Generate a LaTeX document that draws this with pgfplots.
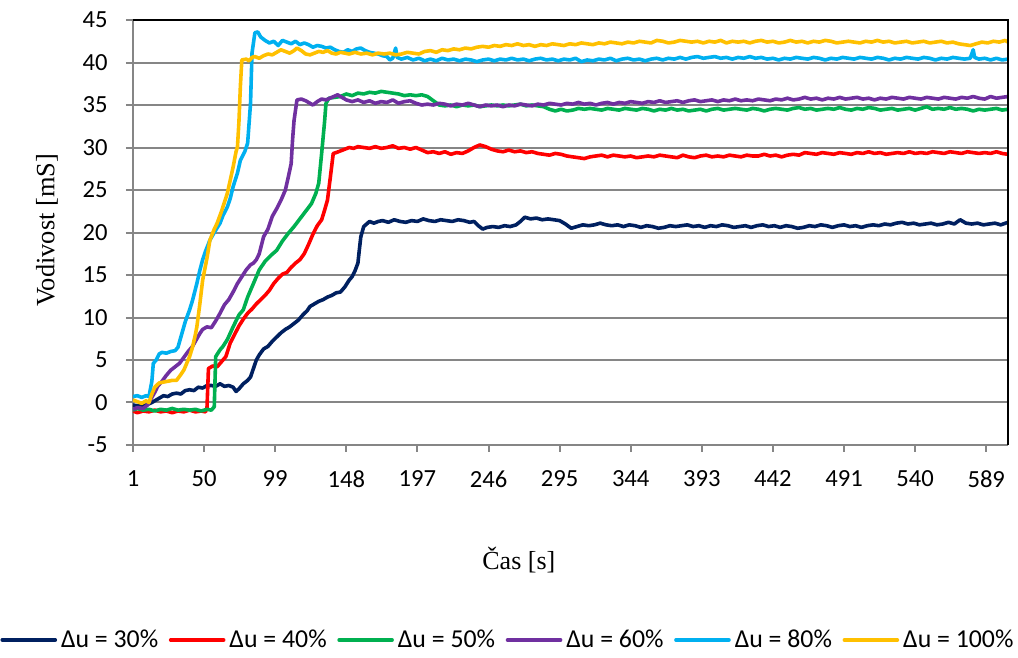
\documentclass[border=0pt]{standalone}
\usepackage{pgfplots}
\usepackage{pgfplotstable}
\pgfplotsset{compat=1.18}
\usepackage{fontspec}
\setmainfont{Carlito}
\newfontfamily\tnr{Liberation Serif}
\definecolor{cnavy}{HTML}{002060}
\definecolor{cred}{HTML}{FF0000}
\definecolor{cgreen}{HTML}{00B050}
\definecolor{cpurple}{HTML}{7030A0}
\definecolor{ccyan}{HTML}{00B0F0}
\definecolor{cyellow}{HTML}{FFC000}
\definecolor{gridgray}{HTML}{868686}

\pgfplotstableread[row sep=\\]{x y\\
1 -0.3\\ 5 -0.4\\ 10 -0.3\\ 14 0.0\\ 17 0.3\\ 20 0.6\\ 22 0.8\\ 25 0.7\\ 28 1.0\\ 31 1.1\\ 34 1.0\\ 37 1.4\\ 40 1.5\\ 43 1.4\\ 46 1.8\\ 49 1.7\\ 52 2.0\\ 55 2.0\\ 58 1.9\\ 61 2.2\\ 64 1.9\\ 67 2.0\\ 70 1.8\\ 72 1.3\\ 74 1.6\\ 77 2.2\\ 80 2.6\\ 82 3.0\\ 84 4.0\\ 86 5.0\\ 88 5.6\\ 91 6.3\\ 94 6.6\\ 97 7.2\\ 100 7.7\\ 103 8.2\\ 106 8.6\\ 109 8.9\\ 112 9.3\\ 115 9.7\\ 118 10.3\\ 121 10.8\\ 123 11.3\\ 126 11.6\\ 129 11.9\\ 132 12.1\\ 135 12.4\\ 138 12.6\\ 141 12.9\\ 144 13.0\\ 147 13.6\\ 150 14.4\\ 152 14.8\\ 154 15.5\\ 156 16.4\\ 157 18.0\\ 158 19.5\\ 160 20.7\\ 162 21.0\\ 164 21.3\\ 167 21.1\\ 170 21.3\\
173 21.4\\ 177 21.2\\ 181 21.5\\ 185 21.3\\ 189 21.2\\ 193 21.4\\ 197 21.3\\ 201 21.6\\ 205 21.4\\ 209 21.3\\ 213 21.5\\ 217 21.4\\ 221 21.3\\ 225 21.5\\ 229 21.4\\ 233 21.2\\ 236 21.3\\ 239 20.8\\ 242 20.4\\ 245 20.6\\ 249 20.7\\ 253 20.6\\ 257 20.8\\ 261 20.7\\ 265 20.9\\ 268 21.3\\ 271 21.8\\ 275 21.6\\ 279 21.7\\ 283 21.5\\ 287 21.6\\ 291 21.5\\ 295 21.4\\ 299 21.0\\ 303 20.5\\ 307 20.7\\ 311 20.9\\ 315 20.8\\ 319 20.9\\ 323 21.1\\ 327 20.9\\ 331 20.8\\ 335 20.9\\ 339 20.7\\ 343 20.9\\ 347 20.8\\ 351 20.6\\ 355 20.8\\ 359 20.7\\ 363 20.5\\ 367 20.6\\ 371 20.8\\ 375 20.7\\ 379 20.8\\ 383 20.9\\ 387 20.7\\ 391 20.8\\ 395 20.6\\ 399 20.8\\ 403 20.7\\ 407 20.9\\ 411 20.8\\ 415 20.6\\ 419 20.7\\ 423 20.8\\ 427 20.6\\ 431 20.8\\ 435 20.9\\ 439 20.7\\ 443 20.8\\ 447 20.6\\ 451 20.8\\ 455 20.7\\ 459 20.5\\ 463 20.6\\ 467 20.8\\ 471 20.7\\ 475 20.9\\ 479 20.8\\ 483 20.6\\ 487 20.8\\ 491 20.9\\ 495 20.7\\ 499 20.8\\ 503 20.6\\ 507 20.8\\ 511 20.9\\ 515 20.8\\ 519 21.0\\ 523 20.9\\ 527 21.1\\ 531 21.2\\ 535 21.0\\ 539 21.1\\ 543 20.9\\ 547 21.0\\ 551 21.1\\ 555 20.9\\ 559 21.0\\ 563 21.2\\ 567 21.0\\ 571 21.5\\ 575 21.1\\ 579 21.0\\ 583 21.1\\ 587 20.9\\ 591 21.0\\ 595 21.1\\ 599 20.9\\ 604 21.2\\
}\navy

\pgfplotstableread[row sep=\\]{x y\\
1 -1.0\\ 4 -1.2\\ 8 -1.0\\ 12 -1.1\\ 16 -0.9\\ 20 -1.1\\ 24 -1.0\\ 28 -1.2\\ 32 -1.0\\ 36 -1.1\\ 40 -0.9\\ 44 -1.1\\ 48 -1.0\\ 51 -1.1\\ 52 -0.6\\ 53 4.0\\ 56 4.3\\ 59 4.2\\ 62 4.8\\ 65 5.4\\ 68 7.0\\ 71 8.0\\ 74 9.0\\ 77 9.8\\ 80 10.5\\ 83 11.0\\ 86 11.6\\ 89 12.1\\ 92 12.6\\ 95 13.2\\ 98 14.0\\ 101 14.6\\ 104 15.1\\ 107 15.3\\ 110 15.9\\ 113 16.4\\ 116 16.8\\ 119 17.5\\ 122 18.6\\ 125 19.8\\ 128 20.8\\ 131 21.5\\ 133 22.6\\ 135 23.8\\ 137 26.5\\ 139 29.3\\ 141 29.4\\ 144 29.6\\ 147 29.8\\ 150 30.0\\ 153 29.9\\ 156 30.1\\ 160 30.0\\ 164 29.9\\ 168 30.1\\ 172 29.9\\ 176 30.0\\ 180 30.2\\ 184 29.9\\ 188 30.0\\ 192 29.8\\ 196 30.0\\ 200 29.7\\ 204 29.4\\ 208 29.5\\ 212 29.3\\ 216 29.5\\ 220 29.2\\ 224 29.4\\ 228 29.3\\ 232 29.6\\ 236 30.0\\ 240 30.3\\ 244 30.1\\ 248 29.8\\ 252 29.6\\ 256 29.5\\ 260 29.7\\ 264 29.5\\ 268 29.6\\ 272 29.4\\ 276 29.5\\ 280 29.3\\ 284 29.2\\ 288 29.1\\ 292 29.3\\ 296 29.2\\ 300 29.0\\ 304 28.9\\ 308 28.8\\ 312 28.7\\ 316 28.9\\ 320 29.0\\ 324 29.1\\ 328 28.9\\ 332 29.1\\ 336 29.0\\ 340 28.9\\ 344 29.0\\ 348 28.8\\ 352 28.9\\ 356 29.0\\ 360 28.9\\ 364 29.1\\ 368 29.0\\ 372 28.9\\ 376 28.8\\ 380 29.1\\ 384 28.9\\ 388 28.8\\ 392 29.0\\ 396 29.1\\ 400 28.9\\ 404 29.0\\ 408 28.9\\ 412 29.1\\ 416 29.0\\ 420 28.9\\ 424 29.1\\ 428 29.0\\ 432 29.0\\ 436 29.2\\ 440 29.0\\ 444 29.1\\ 448 28.9\\ 452 29.1\\ 456 29.2\\ 460 29.1\\ 464 29.4\\ 468 29.3\\ 472 29.2\\ 476 29.4\\ 480 29.3\\ 484 29.2\\ 488 29.4\\ 492 29.3\\ 496 29.2\\ 500 29.4\\ 504 29.3\\ 508 29.5\\ 512 29.3\\ 516 29.4\\ 520 29.2\\ 524 29.3\\ 528 29.4\\ 532 29.3\\ 536 29.5\\ 540 29.3\\ 544 29.4\\ 548 29.3\\ 552 29.5\\ 556 29.4\\ 560 29.3\\ 564 29.5\\ 568 29.4\\ 572 29.3\\ 576 29.5\\ 580 29.4\\ 584 29.3\\ 588 29.4\\ 592 29.3\\ 596 29.5\\ 600 29.3\\ 604 29.2\\
}\red

\pgfplotstableread[row sep=\\]{x y\\
1 -0.9\\ 4 -0.7\\ 8 -0.9\\ 12 -0.8\\ 16 -1.0\\ 20 -0.8\\ 24 -0.9\\ 28 -0.7\\ 32 -0.9\\ 36 -0.8\\ 40 -0.9\\ 44 -0.8\\ 48 -1.0\\ 52 -0.8\\ 55 -0.9\\ 57 -0.5\\ 58 5.4\\ 61 6.2\\ 63 6.6\\ 66 7.4\\ 70 8.9\\ 74 10.3\\ 77 10.9\\ 80 12.4\\ 84 14.0\\ 88 15.6\\ 92 16.6\\ 96 17.3\\ 100 17.9\\ 104 19.0\\ 108 19.9\\ 112 20.7\\ 116 21.6\\ 120 22.5\\ 124 23.4\\ 127 24.6\\ 129 25.8\\ 131 29.3\\ 133 33.0\\ 134 35.2\\ 136 35.8\\ 140 35.9\\ 144 36.0\\ 148 36.3\\ 152 36.1\\ 156 36.4\\ 160 36.3\\ 164 36.5\\ 168 36.4\\ 172 36.6\\ 176 36.5\\ 180 36.4\\ 184 36.3\\ 188 36.1\\ 192 36.2\\ 196 36.1\\ 200 36.2\\ 204 36.0\\ 208 35.5\\ 212 35.0\\ 216 34.9\\ 220 35.0\\ 224 34.8\\ 228 35.0\\ 232 34.9\\ 236 35.0\\ 240 34.8\\ 244 34.9\\ 248 35.0\\ 252 34.9\\ 256 35.0\\ 260 34.9\\ 264 35.0\\ 268 35.1\\ 272 34.9\\ 276 35.0\\ 280 34.9\\ 284 34.8\\ 288 34.5\\ 292 34.3\\ 296 34.5\\ 300 34.3\\ 304 34.4\\ 308 34.6\\ 312 34.5\\ 316 34.6\\ 320 34.5\\ 324 34.4\\ 328 34.6\\ 332 34.5\\ 336 34.4\\ 340 34.6\\ 344 34.5\\ 348 34.4\\ 352 34.6\\ 356 34.5\\ 360 34.3\\ 364 34.5\\ 368 34.4\\ 372 34.6\\ 376 34.4\\ 380 34.5\\ 384 34.3\\ 388 34.4\\ 392 34.5\\ 396 34.3\\ 400 34.5\\ 404 34.6\\ 408 34.4\\ 412 34.5\\ 416 34.6\\ 420 34.5\\ 424 34.4\\ 428 34.6\\ 432 34.5\\ 436 34.3\\ 440 34.5\\ 444 34.6\\ 448 34.5\\ 452 34.4\\ 456 34.6\\ 460 34.7\\ 464 34.5\\ 468 34.6\\ 472 34.4\\ 476 34.5\\ 480 34.6\\ 484 34.5\\ 488 34.7\\ 492 34.5\\ 496 34.4\\ 500 34.6\\ 504 34.5\\ 508 34.7\\ 512 34.6\\ 516 34.4\\ 520 34.5\\ 524 34.6\\ 528 34.4\\ 532 34.5\\ 536 34.6\\ 540 34.4\\ 544 34.6\\ 548 34.8\\ 552 34.5\\ 556 34.6\\ 560 34.5\\ 564 34.7\\ 568 34.5\\ 572 34.6\\ 576 34.5\\ 580 34.3\\ 584 34.5\\ 588 34.4\\ 592 34.5\\ 596 34.6\\ 600 34.4\\ 604 34.5\\
}\green

\pgfplotstableread[row sep=\\]{x y\\
1 -0.8\\ 4 -0.6\\ 8 -0.7\\ 11 -0.3\\ 13 0.3\\ 16 1.2\\ 18 1.9\\ 21 2.5\\ 24 3.2\\ 27 3.8\\ 30 4.2\\ 33 4.6\\ 36 5.3\\ 39 6.0\\ 42 6.6\\ 45 7.5\\ 47 8.1\\ 49 8.6\\ 52 8.9\\ 55 8.8\\ 58 9.6\\ 61 10.5\\ 64 11.5\\ 67 12.1\\ 70 13.0\\ 73 14.0\\ 76 14.8\\ 79 15.6\\ 82 16.2\\ 84 16.4\\ 86 16.8\\ 88 17.5\\ 91 19.5\\ 94 20.4\\ 97 21.9\\ 100 22.8\\ 103 23.8\\ 106 25.0\\ 108 26.5\\ 110 28.1\\ 111 31.0\\ 112 33.2\\ 114 35.6\\ 117 35.7\\ 120 35.5\\ 123 35.2\\ 125 35.0\\ 128 35.4\\ 131 35.7\\ 134 35.6\\ 138 35.9\\ 142 36.2\\ 145 35.9\\ 148 35.6\\ 152 35.4\\ 156 35.6\\ 160 35.3\\ 164 35.5\\ 168 35.2\\ 172 35.4\\ 176 35.3\\ 180 35.6\\ 184 35.2\\ 188 35.4\\ 192 35.5\\ 196 35.2\\ 200 35.0\\ 204 35.1\\ 208 35.0\\ 212 35.2\\ 216 35.1\\ 220 34.9\\ 224 35.1\\ 228 35.0\\ 232 35.2\\ 236 35.0\\ 240 34.8\\ 244 35.0\\ 248 34.9\\ 252 35.0\\ 256 34.8\\ 260 35.0\\ 264 34.9\\ 268 35.1\\ 272 35.0\\ 276 34.9\\ 280 35.1\\ 284 35.0\\ 288 35.2\\ 292 35.1\\ 296 35.0\\ 300 35.2\\ 304 35.1\\ 308 35.3\\ 312 35.1\\ 316 35.2\\ 320 35.0\\ 324 35.2\\ 328 35.3\\ 332 35.1\\ 336 35.3\\ 340 35.2\\ 344 35.4\\ 348 35.3\\ 352 35.2\\ 356 35.4\\ 360 35.3\\ 364 35.5\\ 368 35.3\\ 372 35.4\\ 376 35.5\\ 380 35.3\\ 384 35.5\\ 388 35.6\\ 392 35.4\\ 396 35.5\\ 400 35.6\\ 404 35.4\\ 408 35.6\\ 412 35.5\\ 416 35.7\\ 420 35.5\\ 424 35.6\\ 428 35.5\\ 432 35.7\\ 436 35.6\\ 440 35.5\\ 444 35.7\\ 448 35.6\\ 452 35.8\\ 456 35.6\\ 460 35.7\\ 464 35.9\\ 468 35.7\\ 472 35.8\\ 476 35.6\\ 480 35.8\\ 484 35.7\\ 488 35.9\\ 492 35.7\\ 496 35.8\\ 500 35.9\\ 504 35.7\\ 508 35.8\\ 512 35.6\\ 516 35.8\\ 520 35.7\\ 524 35.9\\ 528 35.8\\ 532 35.7\\ 536 35.9\\ 540 35.8\\ 544 35.7\\ 548 35.9\\ 552 35.8\\ 556 35.7\\ 560 35.9\\ 564 35.8\\ 568 35.7\\ 572 35.9\\ 576 35.8\\ 580 36.0\\ 584 35.8\\ 588 35.7\\ 592 36.0\\ 596 35.8\\ 600 35.9\\ 604 36.0\\
}\purple

\pgfplotstableread[row sep=\\]{x y\\
1 0.7\\ 4 0.8\\ 7 0.6\\ 10 0.8\\ 12 0.7\\ 14 2.5\\ 15 4.6\\ 17 5.0\\ 19 5.7\\ 21 5.9\\ 24 5.8\\ 27 6.0\\ 30 6.1\\ 32 6.5\\ 34 7.7\\ 37 9.5\\ 40 10.9\\ 42 12.0\\ 45 14.0\\ 47 15.5\\ 49 16.8\\ 51 17.8\\ 54 19.1\\ 57 20.0\\ 61 21.1\\ 63 22.0\\ 66 23.0\\ 68 24.0\\ 70 25.4\\ 73 27.0\\ 75 28.5\\ 78 29.5\\ 80 30.5\\ 82 35.2\\ 83 41.1\\ 85 43.5\\ 87 43.6\\ 89 43.0\\ 92 42.6\\ 95 42.3\\ 98 42.5\\ 101 42.0\\ 104 42.6\\ 107 42.4\\ 110 42.2\\ 113 42.5\\ 116 42.1\\ 119 42.3\\ 122 42.1\\ 125 41.8\\ 128 42.0\\ 131 41.9\\ 134 41.7\\ 137 41.8\\ 140 41.5\\ 143 41.3\\ 146 41.2\\ 149 41.5\\ 152 41.3\\ 155 41.6\\ 158 41.7\\ 161 41.4\\ 164 41.2\\ 167 41.1\\ 170 41.0\\ 173 40.8\\ 176 40.7\\ 178 40.3\\ 180 40.5\\ 182 41.7\\ 183 40.6\\ 186 40.4\\ 190 40.6\\ 194 40.3\\ 198 40.5\\ 202 40.2\\ 206 40.4\\ 210 40.2\\ 214 40.5\\ 218 40.3\\ 222 40.4\\ 226 40.2\\ 230 40.4\\ 234 40.3\\ 238 40.1\\ 242 40.3\\ 246 40.4\\ 250 40.2\\ 254 40.4\\ 258 40.3\\ 262 40.5\\ 266 40.3\\ 270 40.4\\ 274 40.2\\ 278 40.4\\ 282 40.5\\ 286 40.3\\ 290 40.4\\ 294 40.2\\ 298 40.4\\ 302 40.3\\ 306 40.5\\ 310 40.1\\ 314 40.3\\ 318 40.2\\ 322 40.4\\ 326 40.3\\ 330 40.5\\ 334 40.2\\ 338 40.4\\ 342 40.5\\ 346 40.3\\ 350 40.4\\ 354 40.2\\ 358 40.4\\ 362 40.5\\ 366 40.3\\ 370 40.5\\ 374 40.4\\ 378 40.6\\ 382 40.4\\ 386 40.6\\ 390 40.7\\ 394 40.5\\ 398 40.6\\ 402 40.7\\ 406 40.5\\ 410 40.6\\ 414 40.4\\ 418 40.6\\ 422 40.5\\ 426 40.7\\ 430 40.5\\ 434 40.6\\ 438 40.4\\ 442 40.5\\ 446 40.3\\ 450 40.5\\ 454 40.4\\ 458 40.6\\ 462 40.5\\ 466 40.4\\ 470 40.6\\ 474 40.5\\ 478 40.3\\ 482 40.5\\ 486 40.4\\ 490 40.6\\ 494 40.5\\ 498 40.4\\ 502 40.6\\ 506 40.5\\ 510 40.4\\ 514 40.6\\ 518 40.5\\ 522 40.3\\ 526 40.5\\ 530 40.4\\ 534 40.6\\ 538 40.5\\ 542 40.4\\ 546 40.6\\ 550 40.5\\ 554 40.3\\ 558 40.5\\ 562 40.4\\ 566 40.6\\ 570 40.5\\ 574 40.4\\ 578 40.5\\ 580 41.5\\ 581 40.6\\ 584 40.4\\ 588 40.5\\ 592 40.3\\ 596 40.5\\ 600 40.3\\ 604 40.4\\
}\cyan

\pgfplotstableread[row sep=\\]{x y\\
1 0.3\\ 4 0.1\\ 7 -0.1\\ 10 0.2\\ 12 0.0\\ 14 1.0\\ 16 1.8\\ 19 2.3\\ 22 2.4\\ 25 2.5\\ 28 2.6\\ 31 2.6\\ 34 3.3\\ 36 3.8\\ 38 4.6\\ 40 5.4\\ 42 6.5\\ 44 8.0\\ 45 8.9\\ 47 11.5\\ 49 14.4\\ 52 17.0\\ 54 19.1\\ 57 20.4\\ 59 21.1\\ 62 22.5\\ 66 24.6\\ 70 27.7\\ 72 29.5\\ 73 30.1\\ 74 33.0\\ 75 37.2\\ 76 40.3\\ 79 40.4\\ 81 40.2\\ 83 40.6\\ 85 40.7\\ 88 40.5\\ 91 40.8\\ 94 41.0\\ 97 40.9\\ 100 41.2\\ 103 41.5\\ 106 41.3\\ 109 41.1\\ 112 41.4\\ 114 41.7\\ 117 41.4\\ 120 41.0\\ 123 40.9\\ 126 41.1\\ 129 41.3\\ 132 41.2\\ 135 41.4\\ 138 41.1\\ 141 41.0\\ 144 41.2\\ 147 41.1\\ 150 41.0\\ 154 41.2\\ 158 41.0\\ 162 41.1\\ 166 40.9\\ 170 41.1\\ 174 41.0\\ 178 41.1\\ 182 40.9\\ 186 41.0\\ 190 41.2\\ 194 41.1\\ 198 41.0\\ 202 41.3\\ 206 41.4\\ 210 41.2\\ 214 41.5\\ 218 41.4\\ 222 41.6\\ 226 41.5\\ 230 41.7\\ 234 41.6\\ 238 41.8\\ 242 41.9\\ 246 41.8\\ 250 42.0\\ 254 41.9\\ 258 42.1\\ 262 42.0\\ 266 42.2\\ 270 42.0\\ 274 42.1\\ 278 41.9\\ 282 42.1\\ 286 42.0\\ 290 42.2\\ 294 42.1\\ 298 42.0\\ 302 42.2\\ 306 42.1\\ 310 42.3\\ 314 42.2\\ 318 42.1\\ 322 42.3\\ 326 42.2\\ 330 42.4\\ 334 42.3\\ 338 42.2\\ 342 42.4\\ 346 42.3\\ 350 42.5\\ 354 42.4\\ 358 42.3\\ 362 42.6\\ 366 42.5\\ 370 42.3\\ 374 42.4\\ 378 42.6\\ 382 42.5\\ 386 42.4\\ 390 42.5\\ 394 42.3\\ 398 42.5\\ 402 42.4\\ 406 42.6\\ 410 42.3\\ 414 42.5\\ 418 42.4\\ 422 42.5\\ 426 42.3\\ 430 42.5\\ 434 42.6\\ 438 42.4\\ 442 42.5\\ 446 42.3\\ 450 42.4\\ 454 42.6\\ 458 42.4\\ 462 42.5\\ 466 42.3\\ 470 42.5\\ 474 42.4\\ 478 42.6\\ 482 42.5\\ 486 42.3\\ 490 42.4\\ 494 42.5\\ 498 42.4\\ 502 42.3\\ 506 42.5\\ 510 42.4\\ 514 42.6\\ 518 42.4\\ 522 42.5\\ 526 42.3\\ 530 42.4\\ 534 42.5\\ 538 42.3\\ 542 42.4\\ 546 42.5\\ 550 42.3\\ 554 42.4\\ 558 42.5\\ 562 42.3\\ 566 42.4\\ 570 42.2\\ 574 42.1\\ 578 42.0\\ 582 42.2\\ 586 42.4\\ 590 42.3\\ 594 42.5\\ 598 42.4\\ 602 42.6\\ 604 42.4\\
}\yellow

\begin{document}
\begin{tikzpicture}
\begin{axis}[
  at={(0,0)}, anchor=south west,
  scale only axis,
  width=437.5pt, height=212.5pt,
  xmin=1, xmax=604,
  ymin=-5, ymax=45,
  xtick={1,50,99,148,197,246,295,344,393,442,491,540,589},
  ytick={-5,0,5,...,45},
  axis x line*=bottom, axis y line*=left,
  axis line style={gridgray, line width=1pt},
  every tick/.style={gridgray, line width=1pt},
  tick align=outside, major tick length=3.5pt,
  ymajorgrids, major grid style={gridgray, line width=1pt},
  clip mode=individual,
  /pgf/number format/assume math mode=true,
  ticklabel style={font=\fontsize{12.3}{14}\selectfont},
  yticklabel style={inner sep=0pt, xshift=-9pt},
  xticklabel style={inner sep=0pt, yshift=-9pt},
  xlabel={\tnr\fontsize{13}{16}\selectfont Čas [s]},
  ylabel={\tnr\fontsize{13.2}{16}\selectfont Vodivost [mS]},
  xlabel style={at={(axis description cs:0.441,-0.2706)}, anchor=center},
  ylabel style={at={(axis description cs:-0.0983,0.505)}, anchor=center},
  legend columns=6,
  legend style={at={(axis description cs:0.4297,-0.4588)}, anchor=center, draw=none,
    font=\fontsize{12.9}{15}\selectfont, inner sep=0pt,
    /tikz/every even column/.append style={column sep=3.3pt}},
  legend image code/.code={\draw[#1, line cap=round] (0pt,0pt) -- (26.5pt,0pt);},
  every axis plot/.append style={line width=1.8pt, line join=round},
]
\addplot[cnavy] table {\navy};
\addplot[cred] table {\red};
\addplot[cgreen] table {\green};
\addplot[cpurple] table {\purple};
\addplot[ccyan] table {\cyan};
\addplot[cyellow] table {\yellow};
\legend{Δu = 30\%, Δu = 40\%, Δu = 50\%, Δu = 60\%, Δu = 80\%, Δu = 100\%}
\draw[black, line width=1pt] (rel axis cs:0,1) -- (rel axis cs:1,1) -- (rel axis cs:1,0);
\end{axis}
\pgfresetboundingbox
\path (-66.5pt,-106.5pt) rectangle (442.5pt,222.5pt);
\end{tikzpicture}
\end{document}
